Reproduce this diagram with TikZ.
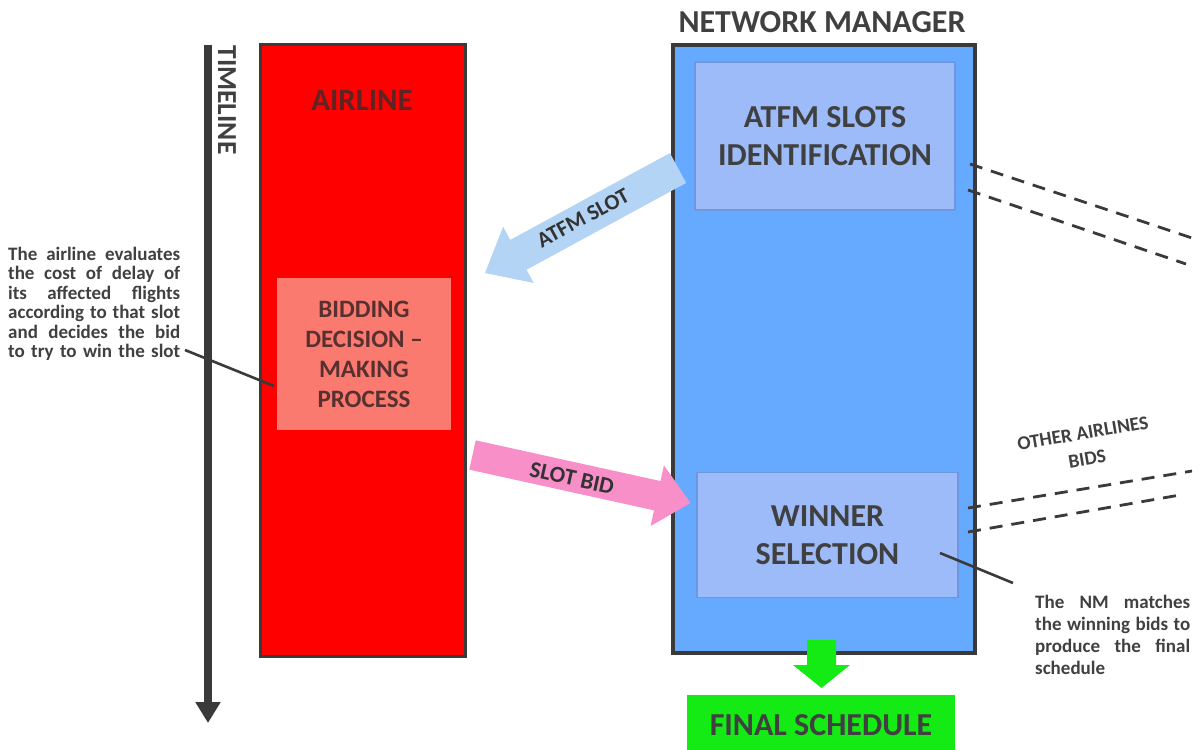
\documentclass[tikz,border=0pt]{standalone}
\usepackage{fontspec}
\setmainfont{Carlito}
\usetikzlibrary{arrows.meta}
\definecolor{bord}{RGB}{58,58,58}
\definecolor{txt}{RGB}{64,64,64}
\definecolor{redfill}{RGB}{255,0,0}
\definecolor{bidfill}{RGB}{250,122,112}
\definecolor{bidtxt}{RGB}{88,48,48}
\definecolor{airtxt}{RGB}{95,35,35}
\definecolor{nmfill}{RGB}{102,170,255}
\definecolor{subfill}{RGB}{157,187,248}
\definecolor{subbord}{RGB}{110,150,225}
\definecolor{atfmarrow}{RGB}{180,212,246}
\definecolor{bidarrow}{RGB}{249,143,200}
\definecolor{finalgreen}{RGB}{20,235,20}
\newcommand\jline[2]{{\spaceskip=0.226em plus 3em\xspaceskip=0.226em plus 3em\makebox[#1][s]{#2}}}
\begin{document}
\begin{tikzpicture}[x=1pt,y=-1pt,
  box/.style={draw=bord, line width=3pt, inner sep=0pt},
  subbox/.style={draw=subbord, line width=1.2pt, fill=subfill, inner sep=0pt, text=txt, align=center, font=\bfseries\fontsize{32}{37.5}\selectfont},
  lbl/.style={font=\bfseries\fontsize{32}{37}\selectfont, text=txt, align=center, inner sep=0pt},
  ann/.style={font=\bfseries\fontsize{19}{19.5}\selectfont, text=txt, align=left, inner sep=0pt},
  dashline/.style={draw=bord, line width=2.8pt, dash pattern=on 13pt off 9pt},
  pointer/.style={draw=bord, line width=2.6pt}]
\useasboundingbox[fill=white] (0,0) rectangle (1198,749);

% timeline
\coordinate (tltop) at (208,45);
\coordinate (tlbot) at (208,723);
\draw[bord, line width=8pt, -{Triangle[width=24pt,length=21pt]}] (tltop) -- (tlbot);
\node[lbl, font=\bfseries\fontsize{27.5}{30}\selectfont, rotate=-90] (tltext) at (227,100) {TIMELINE};

% airline
\node[box, fill=redfill, minimum width=205pt, minimum height=611pt] (airline) at (362.5,350.5) {};
\node[lbl, font=\bfseries\fontsize{31}{34}\selectfont, text=airtxt] (airlinelbl) at (362,100) {AIRLINE};
\node[inner sep=0pt, fill=bidfill, minimum width=174pt, minimum height=152pt, text=bidtxt, align=center,
      font=\bfseries\fontsize{25}{30}\selectfont] (bid) at (364,354) {BIDDING\\DECISION –\\MAKING\\PROCESS};

% network manager
\node[lbl] (nmlbl) at (822,22) {NETWORK MANAGER};
\node[box, line width=3.5pt, fill=nmfill, minimum width=302pt, minimum height=608pt] (nm) at (824,349) {};
\node[subbox, minimum width=260pt, minimum height=148pt] (atfm) at (825,136) {ATFM SLOTS\\IDENTIFICATION};
\node[subbox, minimum width=261pt, minimum height=125pt] (winner) at (827.5,535) {WINNER\\SELECTION};

% ATFM SLOT arrow
\begin{scope}[shift={(678,168)}, rotate=208.55]
  \fill[atfmarrow] (0,-17) -- (181.7,-17) -- (181.7,-32) -- (219.7,0) -- (181.7,32) -- (181.7,17) -- (0,17) -- cycle;
\end{scope}
\node[lbl, font=\bfseries\fontsize{22}{24}\selectfont, text=black!80, rotate=28.5] (atfmslot) at (583,218) {ATFM SLOT};

% SLOT BID arrow
\begin{scope}[shift={(472.5,455)}, rotate=-12.42]
  \fill[bidarrow] (0,-15) -- (189.2,-15) -- (189.2,-31) -- (223.2,0) -- (189.2,31) -- (189.2,15) -- (0,15) -- cycle;
\end{scope}
\node[lbl, font=\bfseries\fontsize{23}{25}\selectfont, text=black!80, rotate=-12.4] (slotbid) at (572,478) {SLOT BID};

% final schedule
\fill[finalgreen] (807,640) -- (836,640) -- (836,665) -- (850,665) -- (821.5,688) -- (793,665) -- (807,665) -- cycle;
\node[inner sep=0pt, fill=finalgreen, minimum width=268pt, minimum height=60pt, text=txt,
      font=\bfseries\fontsize{32}{37}\selectfont] (final) at (821,725) {FINAL SCHEDULE};

% dashed lines
\coordinate (d1a) at (970,164); \coordinate (d1b) at (1198,240);
\coordinate (d2a) at (968,190); \coordinate (d2b) at (1186,264);
\coordinate (d3a) at (968,508); \coordinate (d3b) at (1192,471);
\coordinate (d4a) at (968,532); \coordinate (d4b) at (1180,495);
\draw[dashline] (d1a) -- (d1b);
\draw[dashline] (d2a) -- (d2b);
\draw[dashline] (d3a) -- (d3b);
\draw[dashline] (d4a) -- (d4b);
\node[lbl, font=\bfseries\fontsize{19.5}{26}\selectfont, rotate=9.5] (others) at (1085,446) {OTHER AIRLINES\\BIDS};

% annotations
\node[ann, anchor=base west, text width=172pt] (annair) at (8,260)
  {\jline{172pt}{The airline evaluates}\\
   \jline{172pt}{the cost of delay of}\\
   \jline{172pt}{its affected flights}\\
   \jline{172pt}{according to that slot}\\
   \jline{172pt}{and decides the bid}\\
   \jline{172pt}{to try to win the slot}};
\coordinate (annairend) at (185,350);
\coordinate (bidpoint) at (274,386);
\draw[pointer] (annairend) -- (bidpoint);

\node[ann, anchor=base west, text width=155pt, font=\bfseries\fontsize{19}{22.3}\selectfont] (annnm) at (1035,608)
  {\jline{155pt}{The NM matches}\\
   \jline{155pt}{the winning bids to}\\
   \jline{155pt}{produce the final}\\
   schedule};
\coordinate (winpoint) at (940,553);
\coordinate (annnmend) at (1013,583);
\draw[pointer] (winpoint) -- (annnmend);
\end{tikzpicture}
\end{document}
